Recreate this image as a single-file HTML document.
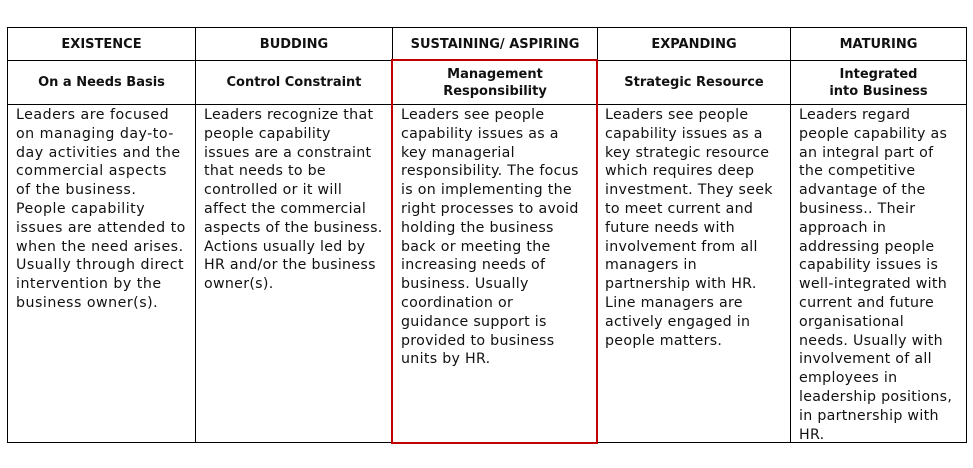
<!DOCTYPE html>
<html><head><meta charset="utf-8"><style>
body{margin:0;width:973px;height:468px;background:#fff;position:relative;overflow:hidden;font-family:"DejaVu Sans","Liberation Sans",sans-serif;color:#111}
.v{position:absolute;background:#000;width:1px}
.h{position:absolute;background:#000;height:1px}
.hd{position:absolute;font-weight:bold;font-size:13px;text-align:center;line-height:17px;display:flex;align-items:center;justify-content:center}
.bd{position:absolute;top:106px;font-size:14.2px;line-height:18.8px;white-space:nowrap;letter-spacing:0.5px}
.red{position:absolute;border:2px solid #c00000;left:391px;top:59px;width:203px;height:381px}
</style></head><body>
<div class="h" style="left:7px;top:27px;width:960px"></div>
<div class="h" style="left:7px;top:60px;width:960px"></div>
<div class="h" style="left:7px;top:104px;width:960px"></div>
<div class="h" style="left:7px;top:442px;width:960px"></div>
<div class="v" style="left:7px;top:27px;height:416px"></div>
<div class="v" style="left:195px;top:27px;height:416px"></div>
<div class="v" style="left:392px;top:27px;height:416px"></div>
<div class="v" style="left:597px;top:27px;height:416px"></div>
<div class="v" style="left:790px;top:27px;height:416px"></div>
<div class="v" style="left:966px;top:27px;height:416px"></div>
<div class="red"></div>

<div class="hd" style="left:8px;top:28px;width:187px;height:32px">EXISTENCE</div>
<div class="hd" style="left:196px;top:28px;width:196px;height:32px">BUDDING</div>
<div class="hd" style="left:393px;top:28px;width:204px;height:32px">SUSTAINING/ ASPIRING</div>
<div class="hd" style="left:598px;top:28px;width:192px;height:32px">EXPANDING</div>
<div class="hd" style="left:791px;top:28px;width:175px;height:32px">MATURING</div>

<div class="hd" style="left:8px;top:61px;width:187px;height:43px">On a Needs Basis</div>
<div class="hd" style="left:196px;top:61px;width:196px;height:43px">Control Constraint</div>
<div class="hd" style="left:393px;top:61px;width:204px;height:43px">Management<br>Responsibility</div>
<div class="hd" style="left:598px;top:61px;width:192px;height:43px">Strategic Resource</div>
<div class="hd" style="left:791px;top:61px;width:175px;height:43px">Integrated<br>into Business</div>

<div class="bd" style="left:16px">Leaders are focused<br>on managing day-to-<br>day activities and the<br>commercial aspects<br>of the business.<br>People capability<br>issues are attended to<br>when the need arises.<br>Usually through direct<br>intervention by the<br>business owner(s).</div>
<div class="bd" style="left:204px;letter-spacing:0.3px">Leaders recognize that<br>people capability<br>issues are a constraint<br>that needs to be<br>controlled or it will<br>affect the commercial<br>aspects of the business.<br>Actions usually led by<br>HR and/or the business<br>owner(s).</div>
<div class="bd" style="left:401px;letter-spacing:0.3px">Leaders see people<br>capability issues as a<br>key managerial<br>responsibility. The focus<br>is on implementing the<br>right processes to avoid<br>holding the business<br>back or meeting the<br>increasing needs of<br>business. Usually<br>coordination or<br>guidance support is<br>provided to business<br>units by HR.</div>
<div class="bd" style="left:605px;letter-spacing:0.3px">Leaders see people<br>capability issues as a<br>key strategic resource<br>which requires deep<br>investment. They seek<br>to meet current and<br>future needs with<br>involvement from all<br>managers in<br>partnership with HR.<br>Line managers are<br>actively engaged in<br>people matters.</div>
<div class="bd" style="left:799px;letter-spacing:0.3px">Leaders regard<br>people capability as<br>an integral part of<br>the competitive<br>advantage of the<br>business.. Their<br>approach in<br>addressing people<br>capability issues is<br>well-integrated with<br>current and future<br>organisational<br>needs. Usually with<br>involvement of all<br>employees in<br>leadership positions,<br>in partnership with<br>HR.</div>
</body></html>
